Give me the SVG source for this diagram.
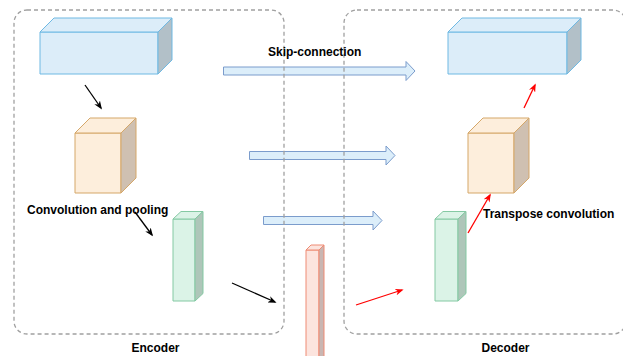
<svg xmlns="http://www.w3.org/2000/svg" width="623" height="356" viewBox="0 0 623 356">
  <style>
    .box { fill: none; stroke: #a0a0a0; stroke-width: 1.3; stroke-dasharray: 4 3; }
    .skip { fill: #dceefa; stroke: #7b9ccc; stroke-width: 1; }
    .lbl { font-family: "Liberation Sans", Arial, sans-serif; font-weight: bold; font-size: 12px; fill: #000; }
    .blue .f, .blue .t { fill: #dcedf9; stroke: #6fb9e3; }
    .blue .s { fill: #b2c0c8; stroke: #6fb9e3; }
    .orange .f, .orange .t { fill: #fdeedc; stroke: #d5a769; }
    .orange .s { fill: #cfc0b1; stroke: #d5a769; }
    .green .f, .green .t { fill: #dbf3e7; stroke: #84c9a3; }
    .green .s { fill: #aec6b9; stroke: #84c9a3; }
    .pink .f, .pink .t { fill: #fce4de; stroke: #ee8b74; }
    .pink .s { fill: #c9b6b2; stroke: #ee8b74; }
    .cube path { stroke-width: 1; stroke-linejoin: round; }
    .blk { stroke: #000; stroke-width: 1.3; fill: none; marker-end: url(#headBlack); }
    .red { stroke: #ff0000; stroke-width: 1.3; fill: none; marker-end: url(#headRed); }
  </style>
  <defs>
    <marker id="headBlack" viewBox="0 0 10 8" refX="8" refY="4" markerWidth="8.5" markerHeight="7" markerUnits="userSpaceOnUse" orient="auto">
      <path d="M0,0 L10,4 L0,8 L3,4 z" fill="#000"/>
    </marker>
    <marker id="headRed" viewBox="0 0 10 8" refX="8" refY="4" markerWidth="8.5" markerHeight="7" markerUnits="userSpaceOnUse" orient="auto">
      <path d="M0,0 L10,4 L0,8 L3,4 z" fill="#ff0000"/>
    </marker>
  </defs>

  <!-- skip connections (block arrows) -->
  <g id="skip-arrows">
    <path class="skip" d="M223.5,67 H406 V61.5 L415,71 L406,80.5 V75 H223.5 Z"/>
    <path class="skip" d="M249.5,151.5 H386 V146 L395,155.5 L386,165 V159.5 H249.5 Z"/>
    <path class="skip" d="M263.5,216.5 H373 V211 L382,220.5 L373,230 V224.5 H263.5 Z"/>
  </g>

  <!-- encoder / decoder frames -->
  <g id="encoder-frame">
    <rect class="box" x="14" y="10" width="270" height="324" rx="13"/>
  </g>
  <g id="decoder-frame">
    <rect class="box" x="344" y="10" width="282" height="324" rx="13"/>
  </g>

  <!-- encoder blocks -->
  <g id="enc-blue" class="cube blue">
    <path class="f" d="M40,32 H158 V74 H40 Z"/>
    <path class="t" d="M40,32 L54,18 H172 L158,32 Z"/>
    <path class="s" d="M158,32 L172,18 V60 L158,74 Z"/>
  </g>
  <g id="enc-orange" class="cube orange">
    <path class="f" d="M75,133 H121 V193 H75 Z"/>
    <path class="t" d="M75,133 L90,118 H136 L121,133 Z"/>
    <path class="s" d="M121,133 L136,118 V178 L121,193 Z"/>
  </g>
  <g id="enc-green" class="cube green">
    <path class="f" d="M173,219 H195 V301 H173 Z"/>
    <path class="t" d="M173,219 L181,211.5 H203 L195,219 Z"/>
    <path class="s" d="M195,219 L203,211.5 V293.5 L195,301 Z"/>
  </g>

  <!-- bottleneck -->
  <g id="bottleneck" class="cube pink">
    <path class="f" d="M306,250 H319 V362 H306 Z"/>
    <path class="t" d="M306,250 L311,245 H324 L319,250 Z"/>
    <path class="s" d="M319,250 L324,245 V357 L319,362 Z"/>
  </g>

  <!-- decoder blocks -->
  <g id="dec-blue" class="cube blue">
    <path class="f" d="M448,32 H567 V74 H448 Z"/>
    <path class="t" d="M448,32 L462,18 H581 L567,32 Z"/>
    <path class="s" d="M567,32 L581,18 V60 L567,74 Z"/>
  </g>
  <g id="dec-orange" class="cube orange">
    <path class="f" d="M468,133 H514 V193 H468 Z"/>
    <path class="t" d="M468,133 L483,118 H529 L514,133 Z"/>
    <path class="s" d="M514,133 L529,118 V178 L514,193 Z"/>
  </g>
  <g id="dec-green" class="cube green">
    <path class="f" d="M435,219 H458 V301 H435 Z"/>
    <path class="t" d="M435,219 L443,211.5 H466 L458,219 Z"/>
    <path class="s" d="M458,219 L466,211.5 V293.5 L458,301 Z"/>
  </g>

  <!-- down / up sampling connectors -->
  <g id="connectors">
    <line class="blk" x1="85" y1="85" x2="101" y2="108"/>
    <line class="blk" x1="135" y1="212" x2="152" y2="235"/>
    <line class="blk" x1="232" y1="283" x2="275" y2="302"/>
    <line class="red" x1="356" y1="305" x2="402" y2="290"/>
    <line class="red" x1="468" y1="233" x2="490" y2="195"/>
    <line class="red" x1="524" y1="108" x2="535" y2="85"/>
  </g>

  <!-- labels -->
  <g id="labels">
    <text class="lbl" x="268" y="56">Skip-connection</text>
    <text class="lbl" x="27" y="214">Convolution and pooling</text>
    <text class="lbl" x="483" y="218">Transpose convolution</text>
    <text class="lbl" x="155.5" y="352" text-anchor="middle">Encoder</text>
    <text class="lbl" x="505.5" y="352" text-anchor="middle">Decoder</text>
  </g>
</svg>
